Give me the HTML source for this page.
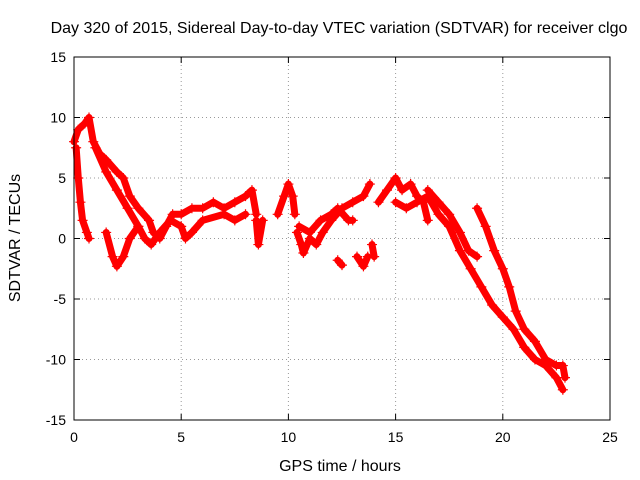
<!DOCTYPE html>
<html><head><meta charset="utf-8"><style>
html,body{margin:0;padding:0;background:#fff}
svg{display:block;font-family:"Liberation Sans",sans-serif}
</style></head><body>
<svg id="chart" width="640" height="480">
<rect width="640" height="480" fill="#fff"/>
<text x="339" y="33" font-size="16" text-anchor="middle">Day 320 of 2015, Sidereal Day-to-day VTEC variation (SDTVAR) for receiver clgo</text>
<text x="340" y="471" font-size="16" text-anchor="middle">GPS time / hours</text>
<text transform="translate(20,238) rotate(-90)" font-size="16" text-anchor="middle">SDTVAR / TECUs</text>
<g id="grid"></g><g id="ticks"></g><g id="series"></g>
<rect x="74" y="57" width="536" height="363" fill="none" stroke="#000"/>
</svg>
<script>
const xTicks=[0,5,10,15,20,25];
const yTicks=[-15,-10,-5,0,5,10,15];
const trackA=[[0,8],[0.2,9],[0.5,9.5],[0.7,10],[0.9,8],[1.2,7],[1.5,6.5],[2,5.5],[2.3,5],[2.6,3.5],[3,2.5],[3.5,1.5],[3.7,0.5],[4,0],[4.3,1],[4.6,2],[5,2],[5.5,2.5],[6,2.5],[6.5,3],[7,2.5],[7.5,3],[8,3.5],[8.3,4],[8.5,2]];
const trackB=[[1,7.5],[1.5,5.5],[2,4],[2.5,2.5],[3,1],[3.3,0],[3.6,-0.5],[4,0.5],[4.5,1.5],[5,1],[5.2,0],[5.5,0.5],[6,1.5],[7,2],[7.5,1.5],[8,2]];
const trackC=[[0.1,7.5],[0.2,5],[0.3,3],[0.4,1.5],[0.6,0.5],[0.7,0]];
const trackD=[[1.5,0.5],[1.8,-1.5],[2,-2.3],[2.3,-1.5],[2.6,0],[3,1]];
const trackE=[[8.5,1.5],[8.6,-0.5],[8.8,1.5]];
const trackF=[[9.5,2],[9.8,3.5],[10,4.5],[10.2,3.5],[10.3,2]];
const trackG=[[10.4,0.5],[10.6,-0.5],[10.7,-1.2],[11,0],[11.3,-0.5],[11.6,0.5],[12,1.5],[12.5,2.5],[13,3],[13.5,3.5],[13.8,4.5]];
const trackG2=[[10.5,1],[11,0.5],[11.5,1.5],[12,2],[12.3,2.5],[12.8,1.5],[13,1.5]];
const trackH1=[[12.3,-1.8],[12.5,-2.2]];
const trackH2=[[13.2,-1.5],[13.5,-2.3],[13.7,-1.5]];
const trackH3=[[13.9,-0.5],[14,-1.5]];
const trackI=[[14.2,3],[14.6,4],[15,5],[15.3,4],[15.7,4.5],[16,3.5],[16.3,3],[16.5,1.5]];
const trackJ=[[16.5,4],[17,3],[17.5,2],[18,0.5],[18.4,-1],[18.8,-1.5]];
const trackK=[[15,3],[15.5,2.5],[16,3],[16.5,3.5],[17,2],[17.5,1],[18,-1],[18.5,-2.5],[19,-4],[19.5,-5.5],[20,-6.5],[20.5,-7.5],[21,-9],[21.5,-10],[22,-10.5],[22.5,-11.5],[22.8,-12.5]];
const trackL=[[18.8,2.5],[19.2,1],[19.6,-1],[20,-2.5],[20.3,-4],[20.6,-6],[21,-7.5],[21.5,-8.5],[22,-10],[22.5,-10.5],[22.8,-10.5],[22.9,-11.5]];
const tracks=[trackA,trackB,trackC,trackD,trackE,trackF,trackG,trackG2,trackH1,trackH2,trackH3,trackI,trackJ,trackK,trackL];
const NS="http://www.w3.org/2000/svg";
const X=v=>74+v/25*536, Y=v=>238.5-v/15*181.5;
function mk(tag,attrs,parent){const e=document.createElementNS(NS,tag);for(const k in attrs)e.setAttribute(k,attrs[k]);parent.appendChild(e);return e;}
const grid=document.getElementById('grid'),ticks=document.getElementById('ticks'),ser=document.getElementById('series');
xTicks.forEach(t=>{const x=X(t);
 if(t>0&&t<25){const g=mk('line',{x1:x,x2:x,y1:57,y2:420,stroke:'#999','stroke-dasharray':'1,3'},grid);
 
 }
 mk('line',{x1:x,x2:x,y1:420,y2:414,stroke:'#000'},ticks);mk('line',{x1:x,x2:x,y1:57,y2:63,stroke:'#000'},ticks);
 const l=mk('text',{x:x,y:442,'font-size':14,'text-anchor':'middle'},ticks);l.textContent=t;
 
 });
yTicks.forEach(t=>{const y=Y(t);
 if(t>-15&&t<15){const g=mk('line',{x1:74,x2:610,y1:y,y2:y,stroke:'#999','stroke-dasharray':'1,3'},grid);
 
 }
 mk('line',{x1:74,x2:80,y1:y,y2:y,stroke:'#000'},ticks);mk('line',{x1:610,x2:604,y1:y,y2:y,stroke:'#000'},ticks);
 const l=mk('text',{x:66,y:y+5,'font-size':14,'text-anchor':'end'},ticks);l.textContent=t;
 
 });
tracks.forEach(tr=>{
 const p=mk('polyline',{points:tr.map(d=>X(d[0])+','+Y(d[1])).join(' '),fill:'none',stroke:'#f00','stroke-width':7,'stroke-linejoin':'round','stroke-linecap':'round'},ser);
 
 
 tr.forEach(d=>{const x=X(d[0]),y=Y(d[1]);
  const m=mk('path',{d:`M${x-5},${y}h10M${x},${y-5}v10`,stroke:'#f00','stroke-width':1.2},ser);
  
  });
});
</script>
</body></html>
